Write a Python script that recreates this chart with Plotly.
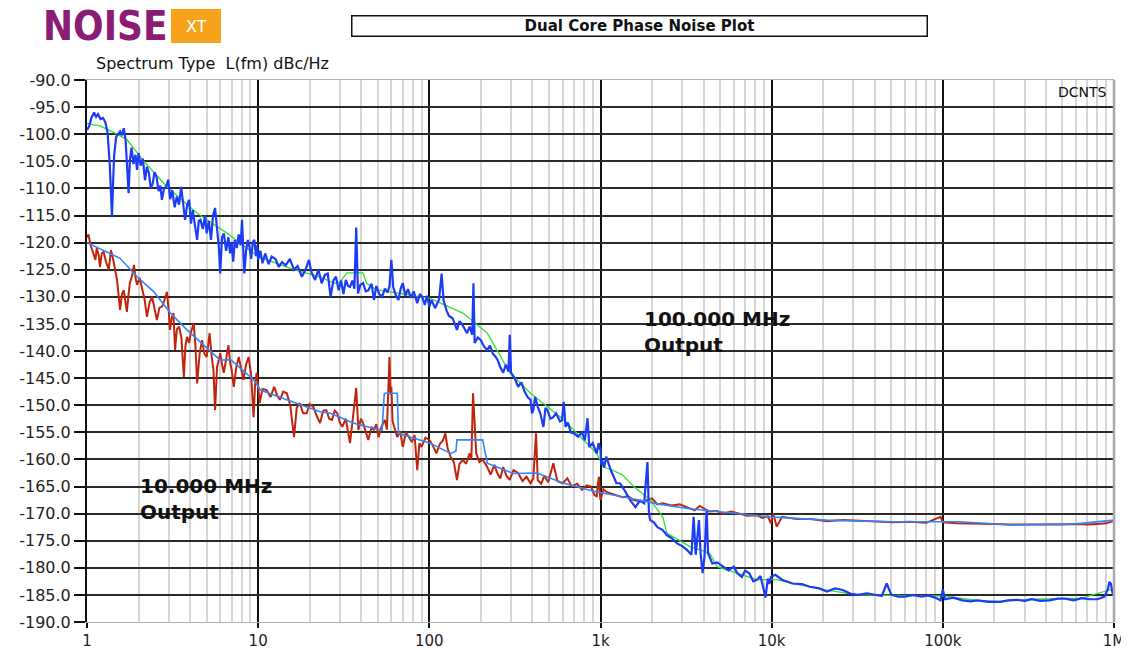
import plotly.graph_objects as go

# ---------------- data ----------------
freq_100_raw = [1.0, 1.03, 1.06, 1.1, 1.13, 1.16, 1.2, 1.24, 1.28, 1.32, 1.36, 1.38, 1.40, 1.42, 1.44, 1.48,
                1.52, 1.56, 1.60, 1.64, 1.68, 1.72, 1.75, 1.78, 1.82, 1.87, 1.92, 1.96, 2.0, 2.06, 2.12,
                2.18, 2.24, 2.30, 2.36, 2.42, 2.48, 2.55, 2.62, 2.68, 2.74, 2.82, 2.9, 2.98, 3.06, 3.15,
                3.25, 3.35, 3.45, 3.55, 3.65, 3.74, 3.85, 3.95, 4.05, 4.15, 4.28, 4.4, 4.5, 4.6, 4.75,
                4.9, 5.0, 5.15, 5.3, 5.45, 5.6, 5.75, 5.9, 6.0, 6.15, 6.3, 6.5, 6.7, 6.85, 7.0, 7.15, 7.3,
                7.5, 7.7, 7.9, 8.05, 8.2, 8.3, 8.5, 8.7, 8.9, 9.1, 9.3, 9.5, 9.7, 9.85, 10.0, 10.3, 10.6,
                11.0, 11.5, 12.0, 12.6, 13.2, 13.8, 14.5, 15.3, 16.2, 17.0, 18.0, 18.9, 19.8, 20.5, 21.5,
                22.5, 23.5, 24.5, 25.5, 26.5, 27.5, 28.5, 29.5, 30.5, 31.5, 32.5, 33.5, 34.4, 35.5, 36.5,
                37.4, 38.3, 39.5, 41.0, 42.5, 44.0, 46.0, 47.5, 49.0, 51.0, 53.0, 55.0, 57.0, 58.5, 60.0,
                61.5, 63.5, 66.0, 68.0, 70.0, 72.5, 75.0, 78.0, 81.0, 85.0, 88.0, 91.0, 94.0, 97.0, 100,
                103, 108, 114, 118, 121, 126, 130, 137, 145, 150, 155, 160, 166, 172, 178, 181, 184, 192,
                200, 209, 218, 226, 235, 243, 250, 260, 270, 280, 290, 295, 300, 315, 330, 345, 360, 375,
                390, 398, 405, 415, 430, 445, 464, 477, 490, 510, 530, 550, 580, 595, 610, 625, 645, 670,
                700, 740, 780, 810, 840, 860, 900, 950, 975, 1000, 1010, 1020, 1050, 1080, 1150, 1240,
                1300, 1400, 1490, 1600, 1700, 1800, 1880, 1920, 1950, 2050, 2150, 2300, 2450, 2600, 2800,
                3000, 3200, 3400, 3500, 3600, 3760, 3850, 3950, 4050, 4170, 4250, 4400, 4500, 4800, 5200,
                5600, 6000, 6300, 6700, 7000, 7400, 7800, 8200, 8600, 8900, 9200, 9500, 9700, 9900,
                10500, 11500, 13200, 15000, 16700, 19000, 21000, 23500, 26000, 29000, 32000, 36000,
                40000, 44000, 47000, 50000, 55000, 60000, 67000, 75000, 82000, 90000, 97000, 100000,
                103000, 115000, 130000, 145000, 160000, 185000, 216000, 240000, 270000, 300000, 330000,
                370000, 420000, 470000, 520000, 580000, 650000, 720000, 800000, 880000, 920000, 940000,
                960000, 980000, 1000000]
level_100_raw = [-99.2, -98.5, -97.0, -96.0, -96.8, -96.3, -97.2, -97.0, -97.8, -99.8, -106.0, -111.0,
                 -115.3, -109.0, -104.0, -100.5, -100.0, -99.5, -100.2, -98.9, -101.0, -106.0, -110.9,
                 -104.8, -102.5, -105.5, -103.8, -106.6, -103.5, -105.8, -104.5, -108.5, -106.0, -107.2,
                 -110.0, -109.1, -107.0, -107.9, -110.5, -109.5, -112.1, -110.0, -109.7, -108.4, -112.0,
                 -110.3, -113.5, -111.5, -113.0, -109.7, -113.5, -115.8, -113.0, -112.1, -116.5, -114.0,
                 -117.0, -119.5, -116.0, -115.8, -117.5, -115.0, -118.3, -116.0, -119.5, -115.0, -113.6,
                 -118.0, -121.0, -125.7, -119.0, -118.3, -121.5, -119.0, -122.0, -120.0, -123.5, -119.5,
                 -121.0, -118.5, -120.5, -115.8, -121.0, -125.7, -121.5, -119.5, -120.8, -123.0, -120.0,
                 -119.5, -122.5, -120.5, -123.2, -121.5, -123.8, -122.0, -124.0, -122.6, -123.0, -124.5,
                 -123.6, -124.2, -123.0, -125.0, -124.3, -126.3, -125.0, -123.2, -125.5, -126.9, -125.0,
                 -127.5, -126.0, -125.7, -130.0, -127.0, -126.3, -128.8, -127.0, -129.5, -126.9, -128.0,
                 -128.2, -127.0, -128.5, -117.2, -129.4, -127.8, -127.5, -129.0, -128.8, -127.6, -130.6,
                 -128.0, -129.5, -130.0, -128.5, -129.2, -128.0, -123.2, -128.2, -129.6, -130.6, -128.5,
                 -127.5, -129.8, -128.6, -130.2, -129.0, -131.2, -129.5, -130.0, -131.5, -129.8, -131.8,
                 -130.6, -132.1, -130.5, -125.7, -130.6, -132.5, -133.5, -134.0, -136.1, -134.5, -135.0,
                 -135.8, -136.7, -135.5, -137.0, -127.5, -138.5, -137.5, -138.0, -139.2, -139.8, -139.0,
                 -140.5, -141.0, -141.6, -143.0, -144.0, -142.5, -143.8, -137.0, -144.0, -145.0, -146.6,
                 -145.8, -147.5, -148.5, -149.0, -151.5, -150.9, -148.5, -150.3, -151.5, -154.0, -150.5,
                 -150.9, -152.5, -152.2, -151.5, -153.0, -152.8, -149.4, -154.0, -153.2, -155.0, -155.2,
                 -155.8, -155.0, -156.5, -152.4, -157.7, -157.0, -158.9, -157.0, -158.3, -161.0, -160.1,
                 -161.5, -159.5, -162.0, -164.4, -164.4, -166.0, -167.5, -168.8, -167.6, -168.1, -160.5,
                 -170.0, -171.2, -171.6, -172.5, -173.0, -174.0, -174.5, -175.5, -176.0, -176.7, -177.6,
                 -170.6, -177.6, -171.2, -177.6, -181.0, -178.0, -169.3, -177.3, -178.5, -179.2, -179.0,
                 -179.8, -180.5, -179.8, -181.0, -181.7, -180.5, -181.0, -182.5, -182.2, -181.5, -183.5,
                 -185.5, -182.0, -183.0, -181.7, -181.3, -182.2, -182.9, -183.0, -183.5, -183.8, -184.4,
                 -183.8, -184.1, -184.8, -185.0, -184.7, -185.0, -185.2, -182.9, -185.0, -185.3, -185.3,
                 -185.0, -185.3, -185.1, -185.5, -186.0, -184.0, -185.8, -185.5, -186.0, -186.2, -186.0,
                 -186.3, -186.3, -186.0, -185.9, -186.1, -185.8, -186.1, -186.0, -185.7, -185.7, -186.0,
                 -185.6, -185.8, -185.8, -185.3, -184.0, -182.6, -183.0, -184.6, -185.0]

freq_100_avg = [1, 1.2, 1.5, 1.71, 2.15, 2.93, 4.4, 6.6, 10, 14.7, 16.2, 23, 27.8, 30, 33, 41, 43, 49, 70,
                101, 157, 218, 295, 390, 610, 950, 1040, 1180, 1350, 1490, 1560, 1960, 2310, 2440, 3330,
                4350, 4800, 8200, 10700, 12800, 21000, 32000, 100000, 160000, 216000, 330000, 650000,
                960000, 1000000]
level_100_avg = [-98.0, -98.5, -100.0, -101.0, -105.0, -109.7, -114.6, -118.3, -122.6, -124.5, -125.0,
                 -126.3, -127.5, -127.3, -125.6, -125.6, -127.5, -128.7, -129.5, -130.3, -133.0, -136.7,
                 -144.0, -147.8, -152.7, -158.9, -161.4, -162.0, -162.9, -164.4, -165.0, -167.5, -170.6,
                 -173.6, -176.1, -177.3, -179.8, -182.2, -182.2, -182.8, -184.1, -185.0, -185.2, -186.0,
                 -186.2, -185.8, -185.6, -184.0, -185.0]

freq_10_raw = [1.0, 1.02, 1.05, 1.07, 1.1, 1.12, 1.14, 1.17, 1.19, 1.22, 1.25, 1.29, 1.34, 1.38, 1.42, 1.45,
               1.5, 1.56, 1.6, 1.64, 1.71, 1.75, 1.78, 1.84, 1.88, 1.92, 1.96, 2.03, 2.1, 2.17, 2.24, 2.32,
               2.4, 2.48, 2.56, 2.65, 2.75, 2.84, 2.93, 3.0, 3.05, 3.12, 3.2, 3.27, 3.35, 3.45, 3.56, 3.68,
               3.76, 3.84, 3.95, 4.05, 4.2, 4.3, 4.4, 4.55, 4.7, 4.85, 5.0, 5.1, 5.2, 5.35, 5.48, 5.6,
               5.75, 5.9, 6.0, 6.15, 6.3, 6.5, 6.7, 6.85, 7.0, 7.2, 7.45, 7.7, 7.95, 8.2, 8.5, 8.8, 9.1,
               9.4, 9.6, 9.8, 10.0, 10.2, 10.6, 11.2, 11.8, 12.4, 12.9, 13.4, 14.0, 14.7, 15.4, 16.2,
               16.8, 17.5, 18.3, 19.2, 20.0, 21.0, 22.0, 23.0, 24.0, 25.0, 26.0, 27.0, 28.0, 29.0, 30.0,
               31.0, 32.5, 34.4, 35.8, 37.4, 38.5, 39.8, 41, 42.5, 44, 46, 47.5, 49, 50.5, 52.5, 55,
               56.5, 58.5, 59.3, 60, 61, 63, 65, 67.5, 70, 73, 76, 79, 82, 85, 87.5, 90, 95, 100, 105,
               110, 115, 120, 124, 128, 133, 139, 145, 150, 157, 164, 172, 176, 180, 184, 188, 196, 205,
               218, 228, 240, 250, 260, 270, 282, 295, 310, 330, 350, 370, 390, 405, 420, 430, 450, 470,
               495, 530, 560, 600, 640, 680, 730, 780, 830, 880, 920, 950, 965, 980, 990, 1000, 1040,
               1080, 1150, 1240, 1350, 1450, 1560, 1750, 2000, 2150, 2310, 2600, 2900, 3300, 3550, 3800,
               4300, 4800, 5200, 5800, 6500, 7200, 8200, 8800, 9500, 9900, 10200, 10700, 11500, 14000,
               17000, 21000, 26000, 32000, 40000, 51000, 65000, 80000, 97000, 100000, 120000, 150000,
               200000, 250000, 320000, 400000, 500000, 600000, 700000, 800000, 900000, 1000000]
level_10_raw = [-119.0, -118.5, -120.5, -121.4, -122.5, -123.2, -121.0, -122.3, -124.5, -122.0, -121.7,
                -123.5, -125.0, -121.4, -123.0, -124.5, -127.0, -132.4, -129.5, -128.8, -132.8, -129.5,
                -127.5, -126.0, -124.1, -126.5, -127.8, -126.5, -128.8, -130.5, -133.7, -131.0, -130.0,
                -132.5, -134.3, -132.0, -131.8, -130.5, -129.1, -132.5, -136.1, -134.0, -133.0, -139.8,
                -136.0, -135.5, -137.5, -144.8, -139.0, -137.4, -138.5, -136.5, -134.9, -139.0, -146.0,
                -140.5, -138.0, -140.5, -141.1, -139.0, -136.7, -141.0, -143.5, -150.9, -143.0, -141.5,
                -140.4, -142.5, -144.0, -141.5, -138.9, -142.0, -143.5, -146.6, -143.0, -141.1, -143.5,
                -145.3, -142.5, -141.1, -144.5, -152.2, -146.0, -144.0, -146.5, -149.6, -147.0, -147.2,
                -148.5, -146.6, -148.2, -149.0, -147.5, -147.8, -150.0, -155.9, -150.5, -149.6, -151.5,
                -151.5, -149.8, -150.3, -152.0, -153.3, -151.0, -150.9, -152.5, -152.7, -151.0, -151.5,
                -153.2, -154.0, -152.5, -157.0, -152.2, -146.8, -154.6, -152.5, -153.3, -155.0, -156.4,
                -154.0, -154.6, -153.5, -155.9, -154.0, -152.7, -154.5, -141.1, -148.0, -146.6, -153.0,
                -154.5, -155.9, -154.8, -157.7, -155.0, -155.9, -156.8, -155.5, -162.0, -157.0, -157.7,
                -156.0, -156.4, -157.5, -158.9, -157.2, -156.5, -155.2, -158.0, -159.5, -160.5, -163.8,
                -160.8, -160.1, -160.8, -158.9, -160.0, -147.8, -155.0, -158.9, -160.5, -160.0, -161.4,
                -162.8, -161.0, -162.6, -163.5, -161.4, -163.0, -163.8, -162.0, -162.5, -164.0, -163.2,
                -164.4, -163.5, -155.2, -163.8, -164.5, -163.0, -164.2, -160.7, -164.0, -164.4, -163.5,
                -165.0, -164.5, -165.6, -164.8, -165.0, -166.5, -166.9, -164.5, -163.2, -166.0, -167.5,
                -165.5, -166.0, -166.3, -166.6, -167.0, -166.8, -167.5, -167.8, -167.2, -168.3, -168.1,
                -168.5, -168.3, -169.0, -169.4, -168.6, -169.6, -169.5, -170.0, -169.6, -170.0, -170.4,
                -170.3, -170.8, -170.5, -171.8, -170.0, -172.4, -170.6, -171.0, -171.0, -171.4, -171.2,
                -171.3, -171.5, -171.6, -171.5, -171.7, -170.6, -171.6, -171.8, -171.8, -171.9, -172.0,
                -172.0, -172.1, -172.0, -171.9, -172.0, -171.9, -171.8, -171.3]

freq_10_avg = [1, 1.56, 1.96, 2.46, 3.07, 3.84, 6.0, 6.9, 9.4, 10.3, 14.7, 23, 26.4, 36, 41, 53, 54.5, 55,
               65, 66, 101, 133, 143, 145, 205, 218, 310, 425, 610, 870, 950, 1350, 2150, 3300, 5200, 9800,
               21000, 51000, 126000, 250000, 600000, 1000000]
level_10_avg = [-120.0, -122.9, -126.3, -129.1, -133.0, -136.1, -141.7, -141.6, -145.3, -147.2, -149.0,
                -151.2, -151.5, -153.3, -153.8, -154.6, -148.0, -147.8, -147.8, -155.2, -157.0, -158.9,
                -158.5, -156.4, -156.4, -160.7, -162.6, -162.5, -164.4, -165.6, -166.0, -166.9, -168.2,
                -169.1, -169.7, -170.6, -171.2, -171.5, -171.5, -172.1, -171.9, -171.2]

x_tick_vals = [1, 10, 100, 1e3, 1e4, 1e5, 1e6]
x_tick_text = ["1", "10", "100", "1k", "10k", "100k", "1M"]
y_tick_vals = list(range(-190, -85, 5))
y_tick_text = ["%.1f" % v for v in y_tick_vals]

# ---------------- layout helpers ----------------
# The page body adds an 8 px offset, so the figure is 8 px smaller and all
# positions below are given in window pixels of the reference.
OFF = 8
W, H = 1129 - OFF, 650 - OFF
PLOT_X0, PLOT_X1, PLOT_Y0, PLOT_Y1 = 87, 1114, 80, 622   # window pixels
L, R = PLOT_X0 - OFF, (1129 - PLOT_X1)
T, B = PLOT_Y0 - OFF, (650 - PLOT_Y1)
PW, PH = PLOT_X1 - PLOT_X0, PLOT_Y1 - PLOT_Y0


def px(x):
    return (x - PLOT_X0) / PW


def py(y):
    return (PLOT_Y1 - y) / PH


FONT = "DejaVu Sans, Verdana, sans-serif"

fig = go.Figure()
fig.add_trace(go.Scatter(x=freq_10_raw, y=level_10_raw, mode="lines",
                         line=dict(color="#c0250c", width=2), hoverinfo="skip"))
fig.add_trace(go.Scatter(x=freq_100_avg, y=level_100_avg, mode="lines",
                         line=dict(color="#2fe02f", width=1.3), hoverinfo="skip"))
fig.add_trace(go.Scatter(x=freq_100_raw, y=level_100_raw, mode="lines",
                         line=dict(color="#1c3cf5", width=2.2), hoverinfo="skip"))
fig.add_trace(go.Scatter(x=freq_10_avg, y=level_10_avg, mode="lines",
                         line=dict(color="#2f86ff", width=1.6), hoverinfo="skip"))

minor_vals = [m * 10 ** d for d in range(6) for m in range(2, 10)]

fig.update_layout(
    width=W, height=H, showlegend=False,
    margin=dict(l=L, r=R, t=T, b=B, pad=0, autoexpand=False),
    paper_bgcolor="white", plot_bgcolor="white",
    font=dict(family=FONT, color="#222222", size=16),
    xaxis=dict(type="log", range=[0, 6], tickmode="array", tickvals=x_tick_vals, ticktext=x_tick_text,
               automargin=False,
               showgrid=True, gridcolor="#111111", gridwidth=2,
               minor=dict(tickmode="array", tickvals=minor_vals, showgrid=True,
                          gridcolor="#d6d6d6", gridwidth=2, ticks=""),
               ticks="outside", ticklen=5, tickcolor="#111111", tickwidth=1.5,
               showline=True, linecolor="#b0b0b0", linewidth=1, mirror=True,
               zeroline=False, tickfont=dict(size=15)),
    yaxis=dict(range=[-190, -90], tickmode="array", tickvals=y_tick_vals, ticktext=y_tick_text,
               automargin=False,
               showgrid=True, gridcolor="#2a2a2a", gridwidth=1.5,
               ticks="outside", ticklen=11, tickcolor="#111111", tickwidth=1.5,
               showline=True, linecolor="#111111", linewidth=2,
               zeroline=False, tickfont=dict(size=16)),
)

shapes = [
    dict(type="rect", xref="paper", yref="paper", x0=px(171), x1=px(221), y0=py(43), y1=py(9),
         fillcolor="#f7a21b", line=dict(width=0), layer="above"),
    dict(type="line", xref="paper", yref="paper", x0=1, x1=1, y0=0, y1=1,
         line=dict(color="#a8a8a8", width=2.5), layer="above"),
]
fig.update_layout(shapes=shapes)

annotations = [
    dict(text="<b>Dual Core Phase Noise Plot</b>", x=px(639), y=py(25.5), xref="paper", yref="paper",
         xanchor="center", yanchor="middle", showarrow=False, width=572, height=17,
         bordercolor="#111111", borderwidth=1.5, bgcolor="white",
         font=dict(family=FONT, size=15, color="#111111")),
    dict(text="<b>NOISE</b>", x=px(41), y=py(26), xref="paper", yref="paper", xanchor="left",
         yanchor="middle", showarrow=False,
         font=dict(family="Liberation Sans Narrow, DejaVu Sans Condensed, Roboto, sans-serif",
                   size=40, color="#8b1c73")),
    dict(text="XT", x=px(196), y=py(26), xref="paper", yref="paper", xanchor="center",
         yanchor="middle", showarrow=False, font=dict(family=FONT, size=16, color="white")),
    dict(text="Spectrum Type\u00a0\u00a0L(fm) dBc/Hz", x=px(94), y=py(63), xref="paper", yref="paper",
         xanchor="left", yanchor="middle", showarrow=False,
         font=dict(family=FONT, size=16, color="#111111")),
    dict(text="DCNTS", x=px(1109), y=py(92), xref="paper", yref="paper", xanchor="right",
         yanchor="middle", showarrow=False, font=dict(family=FONT, size=14, color="#111111")),
    dict(text="<b>100.000 MHz<br>Output</b>", x=px(642), y=py(332), xref="paper", yref="paper",
         xanchor="left", yanchor="middle", align="left", showarrow=False,
         font=dict(family=FONT, size=20, color="#111111")),
    dict(text="<b>10.000 MHz<br>Output</b>", x=px(138), y=py(499), xref="paper", yref="paper",
         xanchor="left", yanchor="middle", align="left", showarrow=False,
         font=dict(family=FONT, size=20, color="#111111")),
]
fig.update_layout(annotations=annotations)

fig.write_html("out.html")
